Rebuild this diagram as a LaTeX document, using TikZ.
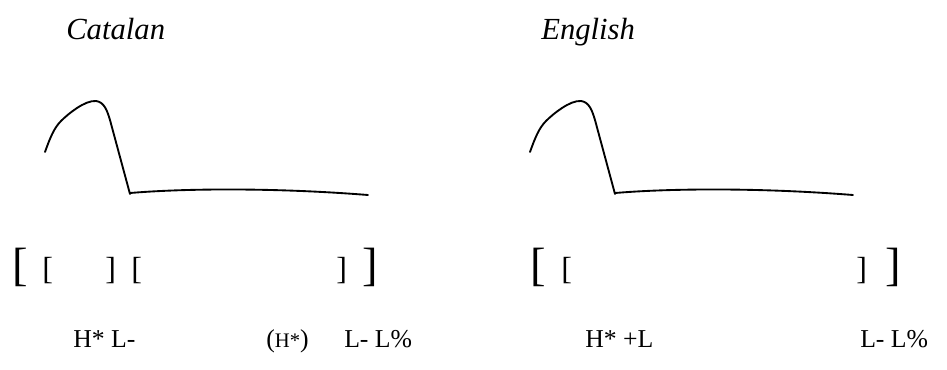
\documentclass[tikz,border=0pt]{standalone}
\usepackage{fontspec}
\setmainfont{Liberation Serif}
\begin{document}
\begin{tikzpicture}[x=0.75pt,y=-0.75pt,
  lbl/.style={inner sep=0pt,anchor=base west,font=\fontsize{19.3}{23}\selectfont},
  ttl/.style={inner sep=0pt,anchor=base west,font=\fontsize{23}{27}\selectfont\itshape},
  bigbr/.style={inner sep=0pt,anchor=base west,font=\fontsize{35}{40}\selectfont},
  smbr/.style={inner sep=0pt,anchor=base west,font=\fontsize{24}{28}\selectfont},
  contour/.style={line width=1.4pt,line cap=round,line join=round}]
\useasboundingbox (0,0) rectangle (947,369);
% titles
\node[ttl] (catalan) at (66,39) {Catalan};
\node[ttl] (english) at (541,39) {English};
% contours
\draw[contour] (45,152) .. controls (50,138) and (54,128) .. (61,121)
  .. controls (68,114) and (85,100) .. (96,101)
  .. controls (104,102) and (107,110) .. (110,120) -- (130,194)
  (130,193) .. controls (190,188) and (280,188) .. (368,195);
\begin{scope}[xshift=485*0.75pt]
\draw[contour] (45,152) .. controls (50,138) and (54,128) .. (61,121)
  .. controls (68,114) and (85,100) .. (96,101)
  .. controls (104,102) and (107,110) .. (110,120) -- (130,194)
  (130,193) .. controls (190,188) and (280,188) .. (368,195);
\end{scope}
% brackets left
\node[bigbr] (lb1) at (12,280) {[};
\node[smbr] (lb2) at (42,279) {[};
\node[smbr] (lb3) at (105,279) {]};
\node[smbr] (lb4) at (131,279) {[};
\node[smbr] (lb5) at (336,279) {]};
\node[bigbr] (lb6) at (362,280) {]};
% brackets right
\node[bigbr] (rb1) at (530,280) {[};
\node[smbr] (rb2) at (561,279) {[};
\node[smbr] (rb3) at (856,279) {]};
\node[bigbr] (rb4) at (885,280) {]};
% tones left
\node[lbl] (t1) at (73,347) {H* L-};
\node[lbl] (t2) at (266,347) {(\fontsize{15.5}{18}\selectfont H*\fontsize{19.3}{23}\selectfont)};
\node[lbl] (t3) at (344,347) {L- L\%};
% tones right
\node[lbl] (t4) at (585,347) {H* +L};
\node[lbl] (t5) at (860,347) {L- L\%};
\end{tikzpicture}
\end{document}
